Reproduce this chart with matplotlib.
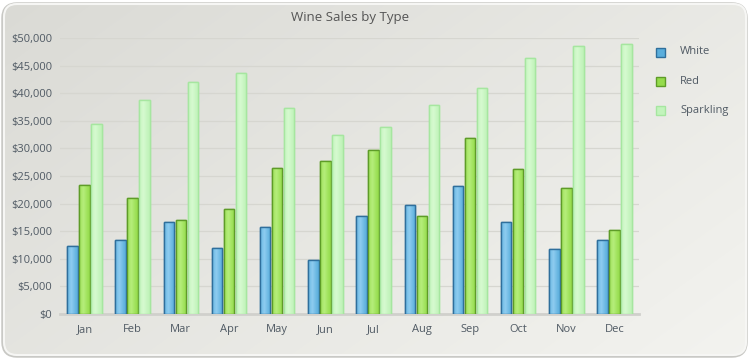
import numpy as np
import matplotlib
matplotlib.use("Agg")
import matplotlib.pyplot as plt
from matplotlib.patches import FancyBboxPatch, Rectangle
from matplotlib.colors import to_rgb
from matplotlib.ticker import FuncFormatter, MultipleLocator

months = ["Jan", "Feb", "Mar", "Apr", "May", "Jun", "Jul", "Aug", "Sep", "Oct", "Nov", "Dec"]
white = [12400, 13400, 16600, 11900, 15800, 9800, 17800, 19700, 23200, 16700, 11700, 13400]
red = [23300, 21000, 17000, 19000, 26400, 27700, 29700, 17800, 31900, 26300, 22800, 15300]
sparkling = [34400, 38800, 42000, 43700, 37300, 32400, 33900, 37900, 40900, 46400, 48600, 48900]
series_names = ["White", "Red", "Sparkling"]

plt.rcParams['font.family'] = ['Open Sans', 'DejaVu Sans']

W, H = 750, 360
fig = plt.figure(figsize=(W / 100, H / 100), dpi=100)
fig.patch.set_facecolor("white")

# background with gradient, rounded
bg = fig.add_axes([0, 0, 1, 1])
bg.set_xlim(0, W)
bg.set_ylim(H, 0)
bg.axis("off")
yy, xx = np.mgrid[0:H, 0:W]
t = (xx / W * 0.6 + yy / H * 0.4)
c0 = np.array([0.855, 0.855, 0.835])
c1 = np.array([0.955, 0.955, 0.94])
img = c0[None, None, :] * (1 - t[..., None]) + c1[None, None, :] * t[..., None]
im = bg.imshow(img, extent=[0, W, H, 0], aspect="auto", zorder=1)
shadow = FancyBboxPatch((3, 4), W - 7, H - 8, boxstyle="round,pad=0,rounding_size=14",
                        facecolor="none", edgecolor="#c8c8c4", linewidth=2.5, zorder=0.5)
bg.add_patch(shadow)
clip = FancyBboxPatch((4, 4), W - 8, H - 9, boxstyle="round,pad=0,rounding_size=13",
                      facecolor="none", edgecolor="#f6f6f4", linewidth=1.5, transform=bg.transData, zorder=3)
bg.add_patch(clip)
im.set_clip_path(clip)

L, R = 60.4, 638.6
ax = fig.add_axes([L / W, 46 / H, (R - L) / W, (322 - 46) / H])
ax.patch.set_alpha(0)
x = np.arange(len(months))
bw = 0.217
off = 0.25

styles = [
    (white, -off, "#5aaedc", "#2f6f9c", "#8fcdf0"),
    (red, 0.0, "#95dc4c", "#5e9c28", "#b6ee7c"),
    (sparkling, off, "#bff2b8", "#a6e6a0", "#d6fad0"),
]


def shaded(c_edge_mid, c_light):
    a = np.array(to_rgb(c_edge_mid))
    b = np.array(to_rgb(c_light))
    s = np.linspace(0, 1, 32)
    prof = np.clip(1 - np.abs(s - 0.4) / 0.6, 0, 1) ** 1.2
    row = a[None, :] * (1 - prof[:, None]) + b[None, :] * prof[:, None]
    return row[None, :, :]


for vals, dx, fc, ec, lc in styles:
    bars = ax.bar(x + dx, vals, bw, color=fc, edgecolor=ec, linewidth=1.0, zorder=3)
    grad = shaded(fc, lc)
    for b in bars:
        x0, y0 = b.get_x(), b.get_y()
        w, h = b.get_width(), b.get_height()
        gi = ax.imshow(grad, extent=[x0, x0 + w, y0, y0 + h], aspect="auto", zorder=3.5,
                       interpolation="bilinear")
        gi.set_clip_path(b)
        edge = Rectangle((x0, y0), w, h, facecolor="none", edgecolor=ec, linewidth=1.0, zorder=4)
        ax.add_patch(edge)

ax.set_xlim(-0.5, 11.5)
ax.set_ylim(0, 50000)
ax.yaxis.set_major_locator(MultipleLocator(5000))
ax.yaxis.set_major_formatter(FuncFormatter(lambda v, p: "${:,.0f}".format(v)))
ax.set_xticks(x)
ax.set_xticklabels(months)
ax.tick_params(axis="both", length=0, colors="#505a64", labelsize=8)
ax.tick_params(axis="y", pad=6)
ax.tick_params(axis="x", pad=7)
ax.grid(axis="y", color="#d6d6d0", linewidth=0.9, zorder=0)
for s in ["top", "right", "left"]:
    ax.spines[s].set_visible(False)
ax.spines["bottom"].set_color("#d0d0cc")
ax.spines["bottom"].set_linewidth(2)

fig.text(350 / W, 1 - 18 / H, "Wine Sales by Type", ha="center", va="center", fontsize=9.5, color="#555555")

# legend
leg_cols = [("#5aaedc", "#2f6f9c"), ("#95dc4c", "#5e9c28"), ("#c2f4bc", "#a6e6a0")]
for i, (name, (fc, ec)) in enumerate(zip(series_names, leg_cols)):
    yc = 52 + i * 29
    bg.add_patch(Rectangle((656, yc - 4.5), 9, 9, facecolor=fc, edgecolor=ec, linewidth=1, zorder=4))
    bg.text(680, yc, name, ha="left", va="center", fontsize=8, color="#505a64", zorder=4)

fig.savefig("out.png", dpi=100)
